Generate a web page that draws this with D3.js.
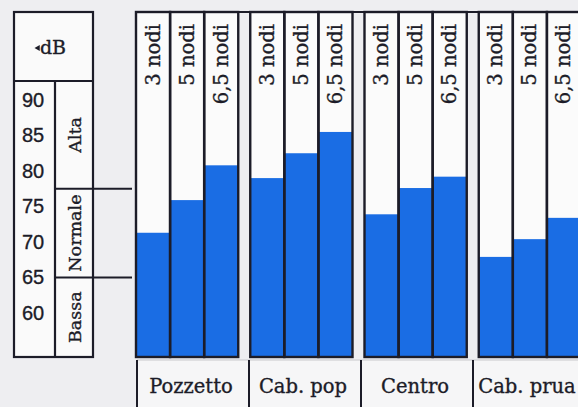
<!DOCTYPE html>
<html><head><meta charset="utf-8">
<script src="https://cdn.jsdelivr.net/npm/d3@7"></script>
<style>html,body{margin:0;padding:0;background:#eeeef1;overflow:hidden}
text{stroke:#1c1c28;stroke-width:0.35px}</style>
</head><body>
<svg id="c" width="578" height="407"></svg>
<script>
const categories = ["Pozzetto", "Cab. pop", "Centro", "Cab. prua"];
const speeds = ["3 nodi", "5 nodi", "6,5 nodi"];
const valuesPozzetto = [71.3, 75.9, 80.8];
const valuesCabPop = [79.0, 82.5, 85.5];
const valuesCentro = [73.9, 77.6, 79.2];
const valuesCabPrua = [67.9, 70.4, 73.4];
const tickLabels = [90, 85, 80, 75, 70, 65, 60];
const zoneNames = ["Alta", "Normale", "Bassa"];
const zoneLimits = [77.5, 65];
const unitLabel = "dB";

(function () {
const series = [valuesPozzetto, valuesCabPop, valuesCentro, valuesCabPrua];
const svg = d3.select("#c");
const ink = "#1c1c28";
const blue = "#1a6de4";
const serif = "'DejaVu Serif', serif";
const sans = "'Liberation Sans', Arial, sans-serif";

const y = d3.scaleLinear().domain([53.8, 90]).range([357, 100]);
const yTop = 12, yBot = y(53.8);
const x = d3.scaleBand().domain(categories).range([136, 581]).paddingInner(0.105).paddingOuter(0).align(0);
const xi = d3.scaleBand().domain(speeds).range([0, x.bandwidth()]).padding(0);
const xl = d3.scaleBand().domain(categories).range([137, 585]).padding(0);

// left panel
const L = 14, M = 55, R = 93, H = 81;
const lp = svg.append("g");
lp.append("rect").attr("x", L).attr("y", yTop).attr("width", R - L).attr("height", yBot - yTop)
  .attr("fill", "#fafafa").attr("stroke", ink).attr("stroke-width", 2.2);
lp.append("line").attr("x1", L).attr("x2", R).attr("y1", H).attr("y2", H).attr("stroke", ink).attr("stroke-width", 2.2);
lp.append("line").attr("x1", M).attr("x2", M).attr("y1", H).attr("y2", yBot).attr("stroke", ink).attr("stroke-width", 2.2);
lp.append("text").attr("x", 53).attr("y", 47).attr("text-anchor", "middle").attr("dominant-baseline", "central")
  .attr("font-family", serif).attr("font-size", 19).attr("fill", ink).text(unitLabel);
lp.append("path").attr("d", d3.symbol(d3.symbolTriangle, 16)()).attr("transform", "translate(38,48) rotate(-90)").attr("fill", ink);

lp.selectAll("text.tick").data(tickLabels).join("text").attr("class", "tick")
  .attr("x", 22).attr("y", d => y(d)).attr("dominant-baseline", "central")
  .attr("font-family", sans).attr("font-size", 20).attr("fill", ink).text(d => d);

zoneLimits.forEach(v => {
  lp.append("line").attr("x1", M).attr("x2", 132).attr("y1", y(v)).attr("y2", y(v)).attr("stroke", ink).attr("stroke-width", 1.8);
});
const zoneBounds = [H, y(zoneLimits[0]), y(zoneLimits[1]), yBot];
zoneNames.forEach((z, i) => {
  const cy = (zoneBounds[i] + zoneBounds[i + 1]) / 2;
  lp.append("text").attr("transform", `translate(75,${cy}) rotate(-90)`)
    .attr("text-anchor", "middle").attr("dominant-baseline", "central")
    .attr("font-family", serif).attr("font-size", 17.5).attr("fill", ink).text(z);
});

// chart
const ch = svg.append("g");
ch.append("line").attr("x1", 136).attr("x2", 578).attr("y1", yTop).attr("y2", yTop).attr("stroke", ink).attr("stroke-width", 2.2);
categories.forEach((c, gi) => {
  const g = ch.append("g").attr("transform", `translate(${x(c)},0)`);
  speeds.forEach((s, si) => {
    const v = series[gi][si];
    g.append("rect").attr("x", xi(s)).attr("y", yTop).attr("width", xi.bandwidth()).attr("height", yBot - yTop)
      .attr("fill", "#fbfbfb");
    g.append("rect").attr("x", xi(s)).attr("y", y(v)).attr("width", xi.bandwidth()).attr("height", yBot - y(v))
      .attr("fill", blue);
    g.append("text").attr("transform", `translate(${xi(s) + xi.bandwidth() / 2},24) rotate(-90)`)
      .attr("text-anchor", "end").attr("dominant-baseline", "central")
      .attr("font-family", serif).attr("font-size", 19.5).attr("fill", ink).text(s);
  });
  speeds.forEach(s => {
    g.append("rect").attr("x", xi(s)).attr("y", yTop).attr("width", xi.bandwidth()).attr("height", yBot - yTop)
      .attr("fill", "none").attr("stroke", ink).attr("stroke-width", 2.4);
  });
});
const lb = svg.append("g");
categories.forEach(c => {
  const g = lb.append("g").attr("transform", `translate(${xl(c)},0)`);
  g.append("rect").attr("x", 0).attr("y", 360).attr("width", xl.step()).attr("height", 50).attr("fill", "#f6f6f7");
  g.append("line").attr("x1", 0).attr("x2", xl.step()).attr("y1", 360).attr("y2", 360).attr("stroke", "#c8c8cc").attr("stroke-width", 1);
  g.append("line").attr("x1", 0).attr("x2", 0).attr("y1", 360).attr("y2", 410).attr("stroke", ink).attr("stroke-width", 2);
  g.append("text").attr("x", xl.step() / 2 - 2).attr("y", 393).attr("text-anchor", "middle")
    .attr("font-family", serif).attr("font-size", 19.5).attr("fill", ink).text(c);
});
})();
</script>
</body></html>
